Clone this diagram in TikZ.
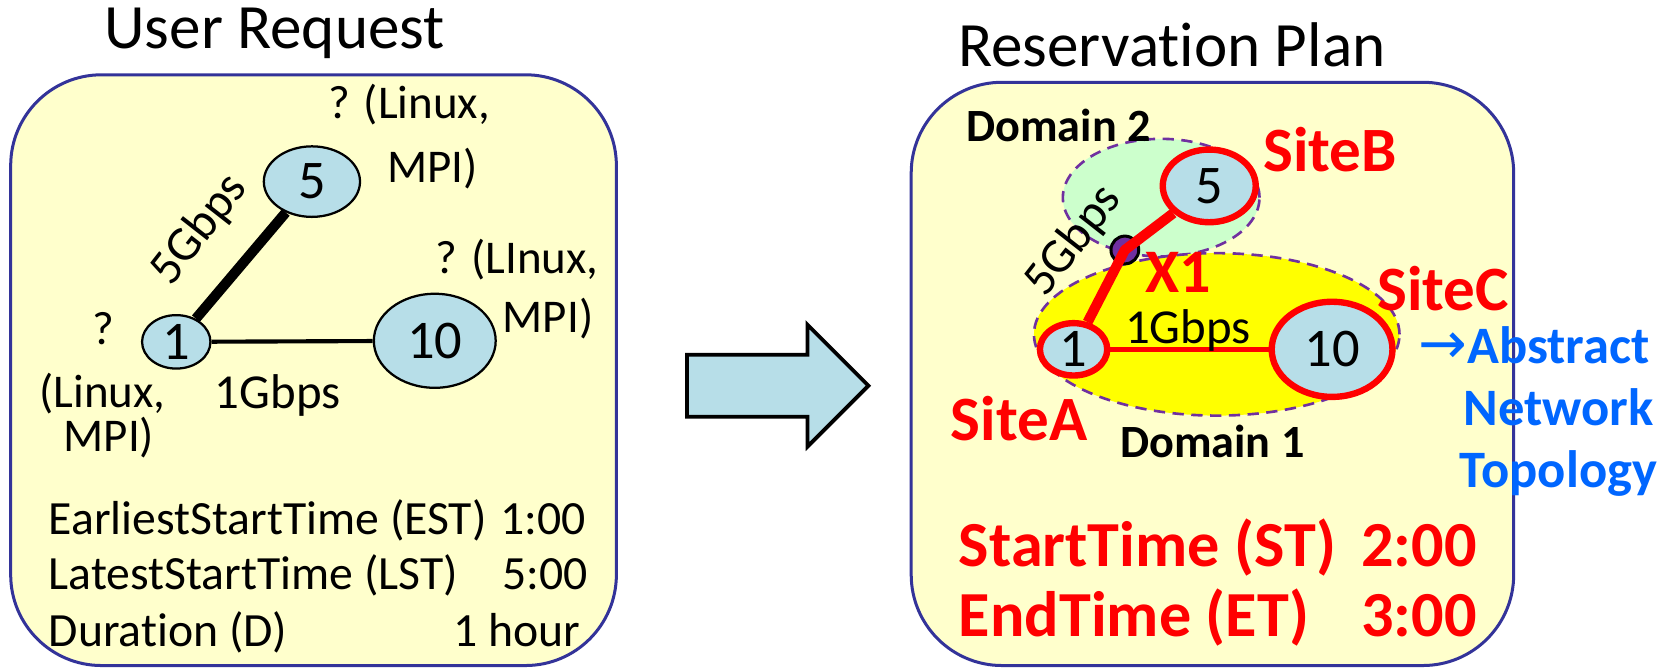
\documentclass[tikz,border=0pt]{standalone}
\usepackage{fontspec}
\setmainfont{Carlito}[Ligatures=NoCommon]
\newfontfamily\dejavu{DejaVu Sans}
\usetikzlibrary{shapes.geometric}
\definecolor{boxyellow}{HTML}{FFFFCC}
\definecolor{boxblue}{HTML}{333399}
\definecolor{nodeblue}{HTML}{B7DEE8}
\definecolor{dgreen}{HTML}{CCFFCC}
\definecolor{dyellow}{HTML}{FFFF00}
\definecolor{dpurple}{HTML}{7030A0}
\definecolor{ablue}{HTML}{0066FF}
\begin{document}
\begin{tikzpicture}[x=0.01cm, y=-0.01cm,
  reg/.style={font=\fontsize{12.5}{15}\selectfont, inner sep=0pt},
  lbl/.style={font=\fontsize{13}{15}\selectfont, inner sep=0pt},
  tline/.style={font=\fontsize{12.7}{15}\selectfont, inner sep=0pt},
  ttl/.style={font=\fontsize{16.8}{20}\selectfont, inner sep=0pt},
  bigred/.style={font=\fontsize{17.1}{21}\selectfont\bfseries, text=red, inner sep=0pt},
  site/.style={font=\fontsize{16.8}{20}\selectfont\bfseries, text=red, inner sep=0pt},
  dom/.style={font=\fontsize{12.3}{15}\selectfont\bfseries, inner sep=0pt},
  abst/.style={font=\fontsize{14}{16.5}\selectfont\bfseries, text=ablue, inner sep=0pt},
  panel/.style={draw=boxblue, fill=boxyellow, line width=0.8pt, rounded corners=0.85cm},
  bnode/.style={ellipse, draw=black, fill=nodeblue, line width=0.6pt, inner sep=0pt, font=\fontsize{14.5}{17}\selectfont},
  rnode/.style={ellipse, draw=red, fill=nodeblue, line width=1.7pt, inner sep=0pt, font=\fontsize{14.5}{17}\selectfont},
  domline/.style={draw=dpurple, dash pattern=on 3pt off 2pt, line width=0.7pt},
  bigarrow/.style={draw=black, fill=nodeblue, line width=1pt}
]
\useasboundingbox (0,0) rectangle (1568,626);

% ---------------- Left panel ----------------
\node[ttl, anchor=base] (t1) at (257,45) {User Request};
\draw[panel] (10,70) rectangle (577,623);

\node[bnode, minimum width=0.90cm, minimum height=0.66cm] (l5) at (292,170) {5};
\node[bnode, minimum width=0.64cm, minimum height=0.50cm] (l1) at (165,320) {1};
\node[bnode, minimum width=1.14cm, minimum height=0.88cm] (l10) at (407,319) {10};

\draw[line width=2.7pt] (l1) -- (l5);
\draw[line width=1.1pt] (l1) -- (l10);

\node[lbl, rotate=52] (lb5) at (187,215) {5Gbps};
\node[lbl] (lb1) at (260,370) {1Gbps};

\node[reg] (q5a) at (383,98) {? (Linux,};
\node[reg] (q5b) at (405,158) {MPI)};
\node[reg] (q10a) at (484,243) {? (LInux,};
\node[reg] (q10b) at (513,298) {MPI)};
\node[reg] (q1a) at (97,308) {?};
\node[reg] (q1b) at (96,368) {(Linux,};
\node[reg] (q1c) at (102,410) {MPI)};

\node[tline, anchor=base west] (e1) at (45,500) {EarliestStartTime (EST)};
\node[tline, anchor=base east] (e2) at (549,500) {1:00};
\node[tline, anchor=base west] (s1) at (45,552) {LatestStartTime (LST)};
\node[tline, anchor=base east] (s2) at (551,552) {5:00};
\node[tline, anchor=base west] (d1) at (45,605) {Duration (D)};
\node[tline, anchor=base east] (d2) at (544,605) {1 hour};

% ---------------- Arrow ----------------
\draw[bigarrow] (643,332) -- (756,332) -- (756,304) -- (813,361) -- (756,418) -- (756,390) -- (643,390) -- cycle;

% ---------------- Right panel ----------------
\node[ttl, anchor=base] (t2) at (1097,62) {Reservation Plan};
\draw[panel] (853,77) rectangle (1417,623);

\draw[domline, fill=dgreen] (1087,185) ellipse [x radius=0.92cm, y radius=0.55cm];
\draw[domline, fill=dyellow] (1139,313) ellipse [x radius=1.71cm, y radius=0.76cm];

\node[circle, draw=black, fill=dpurple, line width=0.8pt, minimum size=0.26cm, inner sep=0pt] (x1) at (1053,234) {};

\node[rnode, minimum width=0.87cm, minimum height=0.68cm] (r5) at (1132,174) {5};
\node[rnode, minimum width=0.63cm, minimum height=0.49cm] (r1) at (1005,327) {1};
\node[rnode, minimum width=1.13cm, minimum height=0.89cm] (r10) at (1247,327) {10};

\draw[red, line width=2.7pt, line join=round] (r1) -- (x1.center) -- (r5);
\draw[red, line width=1.3pt] (r1) -- (r10);

\node[lbl, rotate=52] (rb5) at (1005,226) {5Gbps};
\node[lbl] (rb1) at (1112,309) {1Gbps};
\node[site, font=\fontsize{16.5}{19}\selectfont\bfseries] (x1l) at (1103,255) {X1};

\node[dom] (dm2) at (991,117) {Domain 2};
\node[dom] (dm1) at (1135,413) {Domain 1};
\node[site] (sB) at (1245,140) {SiteB};
\node[site] (sC) at (1351,270) {SiteC};
\node[site] (sA) at (954,392) {SiteA};

\node[abst, align=center] (abs) at (1459,385) {\llap{\dejavu\mdseries\fontsize{15.5}{16.5}\selectfont →}Abstract\\Network\\Topology};

\node[bigred, anchor=base west] (st1) at (897,530) {StartTime (ST)};
\node[bigred, anchor=base east] (st2) at (1383,530) {2:00};
\node[bigred, anchor=base west] (et1) at (897,596) {EndTime (ET)};
\node[bigred, anchor=base east] (et2) at (1383,596) {3:00};
\end{tikzpicture}
\end{document}
